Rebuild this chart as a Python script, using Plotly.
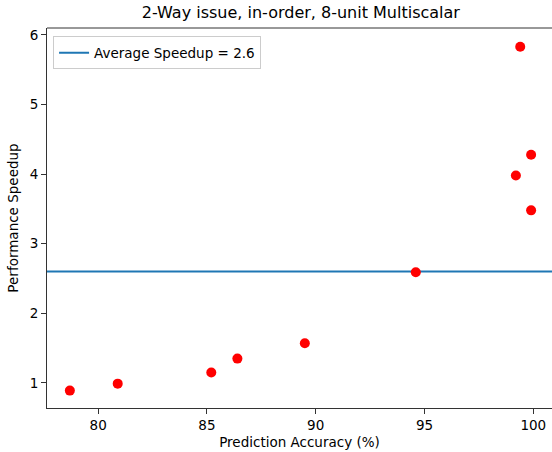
import plotly.graph_objects as go

accuracy = [78.7, 80.9, 85.2, 86.4, 89.5, 94.6, 99.4, 99.9, 99.2, 99.9]
speedup = [0.89, 0.99, 1.15, 1.35, 1.57, 2.59, 5.83, 4.28, 3.98, 3.48]
avg_speedup = 2.6
x_ticks = [80, 85, 90, 95, 100]
y_ticks = [1, 2, 3, 4, 5, 6]

x_range = [77.65, 100.86]
y_range = [0.64, 6.10]

fig = go.Figure()
fig.add_trace(go.Scatter(
    x=x_range, y=[avg_speedup, avg_speedup], mode="lines",
    line=dict(color="#1f77b4", width=2),
    name=f"Average Speedup = {avg_speedup}", showlegend=True,
))
fig.add_trace(go.Scatter(
    x=accuracy, y=speedup, mode="markers",
    marker=dict(color="red", size=10, line=dict(width=0)),
    showlegend=False,
))

axis_common = dict(
    showgrid=False, zeroline=False, showline=True, linecolor="#333333", linewidth=1,
    ticks="outside", ticklen=5, tickwidth=1, tickcolor="#333333",
    tickfont=dict(size=13.5, color="black"),
)
fig.update_xaxes(range=x_range, tickvals=x_ticks, title=dict(text="Prediction Accuracy (%)", font=dict(size=13.5, color="black"), standoff=5), **axis_common)
fig.update_yaxes(range=y_range, tickvals=y_ticks, title=dict(text="Performance Speedup", font=dict(size=13.5, color="black"), standoff=7), **axis_common)

fig.add_shape(type="line", xref="paper", yref="paper", x0=0, x1=1, y0=1, y1=1,
              line=dict(color="#333333", width=1))

fig.update_layout(
    width=552, height=452,
    margin=dict(l=47, r=0, t=28, b=44),
    paper_bgcolor="white", plot_bgcolor="white",
    font=dict(family="DejaVu Sans", color="black"),
    title=dict(text="2-Way issue, in-order, 8-unit Multiscalar", x=0.545, xanchor="center",
               y=0.985, yanchor="top", font=dict(size=16, color="black")),
    legend=dict(x=0.012, y=0.978, xanchor="left", yanchor="top",
                bordercolor="#cccccc", borderwidth=1, bgcolor="white",
                font=dict(size=13.5, color="black"), itemwidth=30),
)

fig.write_html("out.html")
